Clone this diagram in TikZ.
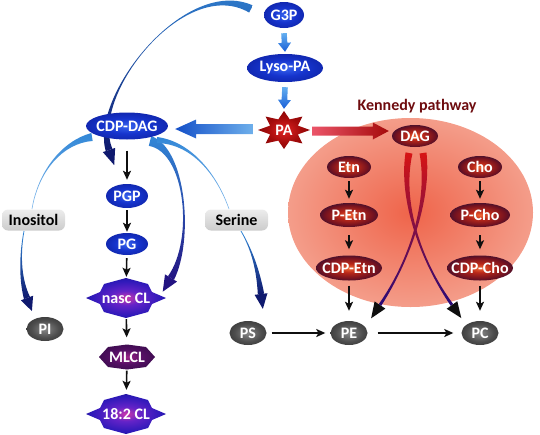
\documentclass[tikz,border=0pt]{standalone}
\usepackage{fontspec}
\setmainfont{Carlito}
\usetikzlibrary{calc,arrows.meta,shapes.geometric}
\pgfdeclarelayer{back}
\pgfdeclarelayer{bg}
\pgfsetlayers{back,bg,main}

\definecolor{bl1}{RGB}{55,100,238}
\definecolor{bl2}{RGB}{22,52,205}
\definecolor{bl3}{RGB}{12,28,150}
\definecolor{k1}{RGB}{240,105,55}
\definecolor{k2}{RGB}{185,40,25}
\definecolor{k3}{RGB}{115,18,32}
\definecolor{k4}{RGB}{20,14,60}
\definecolor{g1}{RGB}{135,135,135}
\definecolor{g2}{RGB}{78,78,78}
\definecolor{g3}{RGB}{45,45,45}
\definecolor{c1}{RGB}{205,55,170}
\definecolor{c2}{RGB}{100,35,200}
\definecolor{c3}{RGB}{45,25,185}
\definecolor{c4}{RGB}{22,15,95}
\definecolor{m1}{RGB}{155,35,135}
\definecolor{m2}{RGB}{85,15,100}
\definecolor{m3}{RGB}{45,10,65}
\definecolor{p1}{RGB}{225,35,35}
\definecolor{p2}{RGB}{165,12,12}
\definecolor{p3}{RGB}{115,0,0}
\definecolor{e1}{RGB}{239,100,74}
\definecolor{e2}{RGB}{246,182,166}
\definecolor{lb1}{RGB}{50,135,215}
\definecolor{lb2}{RGB}{130,185,235}
\definecolor{navy}{RGB}{15,25,110}
\definecolor{pnavy}{RGB}{35,20,130}
\definecolor{kred}{RGB}{110,12,15}
\definecolor{arrblk}{RGB}{15,15,15}
\definecolor{fa1}{RGB}{100,175,240}
\definecolor{fa2}{RGB}{25,95,215}
\definecolor{sred}{RGB}{215,20,20}
\definecolor{smid}{RGB}{150,20,90}
\definecolor{sbot}{RGB}{40,10,120}

\pgfdeclareradialshading{blueball}{\pgfpoint{0bp}{0bp}}{color(0bp)=(bl1); color(14bp)=(bl2); color(36bp)=(bl3); color(50bp)=(bl3)}
\pgfdeclareradialshading{kball}{\pgfpoint{0bp}{0bp}}{color(0bp)=(k1); color(9bp)=(k2); color(21bp)=(k3); color(32bp)=(k4); color(50bp)=(k4)}
\pgfdeclareradialshading{grayball}{\pgfpoint{0bp}{0bp}}{color(0bp)=(g1); color(18bp)=(g2); color(35bp)=(g3); color(50bp)=(g3)}
\pgfdeclareradialshading{clball}{\pgfpoint{0bp}{0bp}}{color(0bp)=(c1); color(9bp)=(c2); color(22bp)=(c3); color(36bp)=(c4); color(50bp)=(c4)}
\pgfdeclareradialshading{mlball}{\pgfpoint{0bp}{0bp}}{color(0bp)=(m1); color(14bp)=(m2); color(35bp)=(m3); color(50bp)=(m3)}
\pgfdeclareradialshading{pastar}{\pgfpoint{0bp}{0bp}}{color(0bp)=(p1); color(16bp)=(p2); color(35bp)=(p3); color(50bp)=(p3)}
\pgfdeclareradialshading{kennbg}{\pgfpoint{0bp}{0bp}}{color(0bp)=(e1); color(36bp)=(e2); color(50bp)=(e2)}

\newcommand{\zbox}[1]{\makebox[0pt][c]{#1}}
% tapered curve: #1 opts, #2 S, #3 C1, #4 C2, #5 E, #6..#9 half widths at S,C1,C2,E
\newcommand{\tapered}[9]{%
  \path[#1] ($(#2)!#6!90:(#3)$) .. controls ($(#3)!#7!-90:(#2)$) and ($(#4)!#8!90:(#5)$) .. ($(#5)!#9!-90:(#4)$)
    -- ($(#5)!#9!90:(#4)$) .. controls ($(#4)!#8!-90:(#5)$) and ($(#3)!#7!90:(#2)$) .. ($(#2)!#6!-90:(#3)$) -- cycle;}
% arrow head: #1 opts, #2 from, #3 base point, #4 length, #5 half width
\newcommand{\ahead}[5]{%
  \path[#1] ($(#3)!#5!90:(#2)$) -- ($(#3)!-#4!(#2)$) -- ($(#3)!#5!-90:(#2)$) -- cycle;}
% fat straight arrow: #1 opts, #2 start, #3 tip, #4 shaft half, #5 head half, #6 head length
\newcommand{\fatarrow}[6]{%
  \coordinate (fh) at ($(#3)!#6!(#2)$);
  \path[#1] ($(#2)!#4!90:(#3)$) -- ($(fh)!#4!90:(#3)$) -- ($(fh)!#5!90:(#3)$) -- (#3)
    -- ($(fh)!#5!-90:(#3)$) -- ($(fh)!#4!-90:(#3)$) -- ($(#2)!#4!-90:(#3)$) -- cycle;}

\begin{document}
\begin{tikzpicture}[x=1pt,y=-1pt,
  txt/.style={font=\fontsize{16}{18}\selectfont\bfseries, text=white, inner sep=0pt},
  bnode/.style={txt, ellipse, shade, shading=blueball},
  knode/.style={txt, ellipse, shade, shading=kball},
  gnode/.style={txt, ellipse, shade, shading=grayball, minimum width=37pt, minimum height=24pt},
  lbl/.style={font=\fontsize{16}{18}\selectfont\bfseries, text=black, rounded corners=6pt,
     top color=gray!15, bottom color=gray!40, minimum width=63pt, minimum height=21pt, inner sep=0pt},
  blk/.style={draw=arrblk, line width=1.6pt, -{Stealth[length=9pt,width=8pt,inset=2pt]}},
]
\useasboundingbox (0,0) rectangle (540,434);

% Kennedy background
\begin{pgfonlayer}{back}
  \shade[shading=kennbg] (410.5,212.5) ellipse [x radius=122.5, y radius=94.5];
\end{pgfonlayer}
\node[font=\fontsize{16}{18}\selectfont\bfseries, text=kred, inner sep=0pt] (Ktitle) at (417,106) {Kennedy pathway};

% blue nodes
\node[bnode, minimum width=40pt, minimum height=26pt] (G3P) at (284,15) {\zbox{G3P}};
\node[bnode, minimum width=76pt, minimum height=28pt] (LysoPA) at (285,68) {\zbox{Lyso-PA}};
\node[bnode, minimum width=82pt, minimum height=27pt] (CDPDAG) at (127,126) {\zbox{CDP-DAG}};
\node[bnode, minimum width=42pt, minimum height=24pt] (PGP) at (127,196) {\zbox{PGP}};
\node[bnode, minimum width=42pt, minimum height=22pt] (PG) at (127,244) {\zbox{PG}};

% PA star
\shade[shading=pastar, shift={(284,130)}]
  (90:26 and 19) -- (112.5:15 and 11.5) -- (135:26 and 19) -- (157.5:15 and 11.5) --
  (180:26 and 19) -- (202.5:15 and 11.5) -- (225:26 and 19) -- (247.5:15 and 11.5) --
  (270:26 and 19) -- (292.5:15 and 11.5) -- (315:26 and 19) -- (337.5:15 and 11.5) --
  (0:26 and 19) -- (22.5:15 and 11.5) -- (45:26 and 19) -- (67.5:15 and 11.5) -- cycle;
\node[txt, ellipse, minimum width=46pt, minimum height=34pt] (PA) at (284,130) {\zbox{PA}};

% cardiolipin shapes
\shade[shading=clball, shift={(126,298)}] (0,-20) -- (22,-14) -- (26,-6) -- (40,0) -- (26,6) -- (22,14) -- (0,20)
  -- (-22,14) -- (-26,6) -- (-40,0) -- (-26,-6) -- (-22,-14) -- cycle;
\node[txt, minimum width=60pt, minimum height=40pt] (nascCL) at (126,298) {\zbox{nasc CL}};
\shade[shading=mlball, shift={(127,357)}] (-28,0) -- (-19,-10) -- (0,-12.5) -- (19,-10) -- (28,0) -- (19,10)
  -- (0,12.5) -- (-19,10) -- cycle;
\node[txt, minimum width=56pt, minimum height=25pt] (MLCL) at (127,357) {\zbox{MLCL}};
\shade[shading=clball, shift={(126,414)}] (0,-20) -- (22,-14) -- (26,-6) -- (40,0) -- (26,6) -- (22,14) -- (0,20)
  -- (-22,14) -- (-26,6) -- (-40,0) -- (-26,-6) -- (-22,-14) -- cycle;
\node[txt, minimum width=60pt, minimum height=40pt] (CL18) at (126,414) {\zbox{18:2 CL}};

% labels
\node[lbl] (Inositol) at (33.5,220) {Inositol};
\node[lbl] (Serine) at (236.5,220) {Serine};

% gray nodes
\node[gnode] (PI) at (45,329) {\zbox{PI}};
\node[gnode] (PS) at (248,333) {\zbox{PS}};
\node[gnode] (PE) at (349,333) {\zbox{PE}};
\node[gnode] (PC) at (480,333) {\zbox{PC}};

% Kennedy nodes
\node[knode, minimum width=46pt, minimum height=22pt] (DAG) at (415,136) {\zbox{DAG}};
\node[knode, minimum width=44pt, minimum height=22pt] (Etn) at (349,167) {\zbox{Etn}};
\node[knode, minimum width=44pt, minimum height=22pt] (Cho) at (480,167) {\zbox{Cho}};
\node[knode, minimum width=58pt, minimum height=24pt] (PEtn) at (349,215) {\zbox{P-Etn}};
\node[knode, minimum width=60pt, minimum height=24pt] (PCho) at (480,215) {\zbox{P-Cho}};
\node[knode, minimum width=66pt, minimum height=25pt] (CDPEtn) at (349,268) {\zbox{CDP-Etn}};
\node[knode, minimum width=66pt, minimum height=25pt] (CDPCho) at (480,268) {\zbox{CDP-Cho}};

% fat straight arrows
\coordinate (f1s) at ($(G3P.south)+(0,5)$);
\coordinate (f1e) at ($(LysoPA.north)+(0,-2)$);
\fatarrow{top color=fa1, bottom color=fa2}{f1s}{f1e}{2.8pt}{6.5pt}{9pt}
\coordinate (f2s) at ($(LysoPA.south)+(0,5)$);
\coordinate (f2e) at ($(PA.north)+(0,-4)$);
\fatarrow{top color=fa1, bottom color=fa2}{f2s}{f2e}{2.8pt}{6.5pt}{9pt}
\coordinate (f3s) at ($(PA.west |- CDPDAG.east)+(-8,3)$);
\coordinate (f3e) at ($(CDPDAG.east)+(7,3)$);
\fatarrow{left color={rgb,255:red,20;green,80;blue,200}, right color={rgb,255:red,110;green,175;blue,235}}{f3s}{f3e}{5pt}{9.5pt}{21pt}
\coordinate (f4s) at ($(PA.east)+(5,1)$);
\coordinate (f4e) at ($(DAG.west |- PA.east)+(-3,1)$);
\fatarrow{left color={rgb,255:red,235;green,85;blue,105}, right color={rgb,255:red,165;green,10;blue,10}}{f4s}{f4e}{4.5pt}{8.5pt}{16pt}

% curved tapered arrows
\begin{pgfonlayer}{bg}
  % G3P -> CDP-DAG side
  \tapered{top color=lb1, middle color=lb2, bottom color=navy}{251,9}{185,-25}{90,95}{109,150}{4pt}{0pt}{0pt}{3.5pt}
  \ahead{fill=navy}{90,95}{109,150}{16pt}{6.5pt}
  % CDP-DAG -> Inositol
  \tapered{top color=lb1, bottom color=lb2}{92,137}{62,142}{38,172}{32,209}{4pt}{1.2pt}{0.3pt}{0.3pt}
  % Inositol -> PI
  \tapered{top color=lb1, bottom color=navy}{24,231}{19,258}{21,282}{27,298}{0.4pt}{0.4pt}{1.5pt}{3.2pt}
  \ahead{fill=navy}{21,282}{27,298}{14pt}{6.5pt}
  % CDP-DAG -> nasc CL
  \tapered{top color=lb1, bottom color=pnavy}{150,141}{186,150}{194,240}{171,278}{5pt}{2pt}{0pt}{3.5pt}
  \ahead{fill=pnavy}{194,240}{171,278}{16pt}{7pt}
  % CDP-DAG -> Serine
  \tapered{top color=lb1, bottom color=lb2}{157,140}{195,143}{219,180}{229,209}{3pt}{0.8pt}{0.3pt}{0.3pt}
  % Serine -> PS
  \tapered{top color=lb1, bottom color=navy}{241,231}{252,250}{258,270}{261,294}{0.4pt}{0.4pt}{1.5pt}{3.2pt}
  \ahead{fill=navy}{258,270}{261,294}{15pt}{6.5pt}
  % DAG -> PC and DAG -> PE
  \tapered{top color=sred, middle color=smid, bottom color=sbot}{409,153}{400,200}{420,260}{452,305}{3.5pt}{1.8pt}{0.2pt}{1.5pt}
  \ahead{fill=arrblk}{420,260}{452,305}{16pt}{6.5pt}
  \tapered{top color=sred, middle color=smid, bottom color=sbot}{423,153}{430,200}{410,260}{380,305}{3.5pt}{1.8pt}{0.2pt}{1.5pt}
  \ahead{fill=arrblk}{410,260}{380,305}{16pt}{6.5pt}
\end{pgfonlayer}

% black arrows
\draw[blk, shorten <=11pt, shorten >=4pt] (CDPDAG) -- (PGP);
\draw[blk, shorten <=2pt, shorten >=1pt] (PGP) -- (PG);
\draw[blk, shorten <=3pt, shorten >=1pt] (PG) -- (nascCL);
\draw[blk, shorten <=1pt, shorten >=7pt] (nascCL) -- (MLCL);
\draw[blk, shorten <=1pt, shorten >=4pt] (MLCL) -- (CL18);
\draw[blk, shorten <=3pt, shorten >=4pt] (Etn) -- (PEtn);
\draw[blk, shorten <=8pt, shorten >=6pt] (PEtn) -- (CDPEtn);
\draw[blk, shorten <=5pt, shorten >=10pt] (CDPEtn) -- (PE);
\draw[blk, shorten <=3pt, shorten >=4pt] (Cho) -- (PCho);
\draw[blk, shorten <=8pt, shorten >=6pt] (PCho) -- (CDPCho);
\draw[blk, shorten <=5pt, shorten >=10pt] (CDPCho) -- (PC);
\draw[blk, shorten <=5pt, shorten >=5pt] (PS) -- (PE);
\draw[blk, shorten <=10pt, shorten >=8pt] (PE) -- (PC);
\end{tikzpicture}
\end{document}
